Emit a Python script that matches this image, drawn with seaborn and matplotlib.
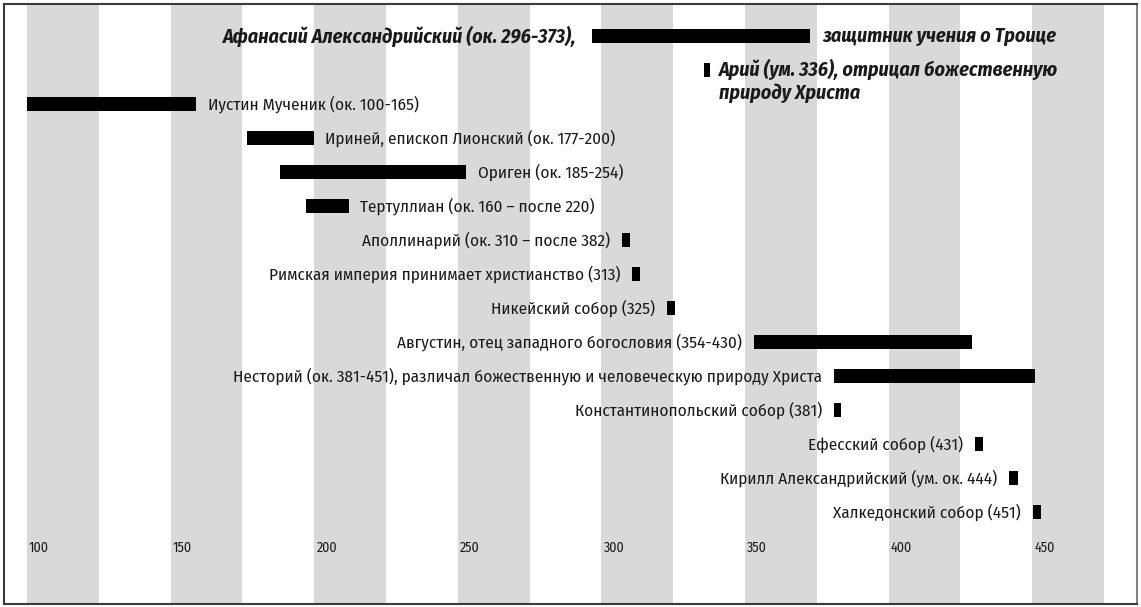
import matplotlib
matplotlib.use("Agg")
import matplotlib.pyplot as plt
import seaborn as sns
import pandas as pd

# Timeline data (years)
labels = [
    "Иустин Мученик (ок. 100-165)",
    "Ириней, епископ Лионский (ок. 177-200)",
    "Ориген (ок. 185-254)",
    "Тертуллиан (ок. 160 – после 220)",
    "Аполлинарий (ок. 310 – после 382)",
    "Римская империя принимает христианство (313)",
    "Никейский собор (325)",
    "Августин, отец западного богословия (354-430)",
    "Несторий (ок. 381-451), различал божественную и человеческую природу Христа",
    "Константинопольский собор (381)",
    "Ефесский собор (431)",
    "Кирилл Александрийский (ум. ок. 444)",
    "Халкедонский собор (451)",
]
starts = [100, 176.5, 188, 197, 307.2, 310.7, 322.8, 353, 381, 381, 430.1, 441.9, 450.3]
ends = [159, 200, 253, 212, 310, 313.5, 325.6, 429, 451, 383.4, 432.9, 444.9, 453.1]
sides = ["right"] * 4 + ["left"] * 9

athanasius_left = "Афанасий Александрийский (ок. 296-373),"
athanasius_right = "защитник учения о Троице"
athanasius_span = [296.7, 372.6]
arius_label = "Арий (ум. 336), отрицал божественную\nприроду Христа"
arius_span = [335.6, 337.8]

ticks = [100, 150, 200, 250, 300, 350, 400, 450]

df = pd.DataFrame({"label": labels, "start": starts, "end": ends, "side": sides})
df["row"] = range(2, 2 + len(df))

sns.set_theme(style="white")
plt.rcParams["font.family"] = ["Fira Sans Condensed", "PT Sans Narrow",
                               "Open Sans Condensed", "DejaVu Sans"]

fig = plt.figure(figsize=(11.41, 6.07), dpi=100)
ax = fig.add_axes([4 / 1141, 3 / 607, 1133 / 1141, 600 / 607])

# grey stripes
for t in ticks:
    ax.axvspan(t, t + 25, color="#d9d9d9", lw=0, zorder=0)

bar_h = 0.42
ax.barh(df["row"], df["end"] - df["start"], left=df["start"], height=bar_h,
        color="black", lw=0, zorder=2)
ax.barh([0], [athanasius_span[1] - athanasius_span[0]], left=athanasius_span[0],
        height=bar_h, color="black", lw=0, zorder=2)
ax.barh([1], [arius_span[1] - arius_span[0]], left=arius_span[0],
        height=bar_h, color="black", lw=0, zorder=2)

txt = dict(fontsize=12.3, color="#1a1a1a", va="center", textcoords="offset points")
for _, r in df.iterrows():
    if r["side"] == "right":
        ax.annotate(r["label"], (r["end"], r["row"]), xytext=(8, 0), ha="left", **txt)
    else:
        ax.annotate(r["label"], (r["start"], r["row"]), xytext=(-8.5, 0), ha="right", **txt)

bold = dict(fontsize=14.4, color="#1a1a1a", fontweight="bold", fontstyle="italic",
            textcoords="offset points")
ax.annotate(athanasius_left, (athanasius_span[0], 0), xytext=(-11, 0),
            ha="right", va="center", **bold)
ax.annotate(athanasius_right, (athanasius_span[1], 0), xytext=(9, 0),
            ha="left", va="center", **bold)
ax.annotate(arius_label, (arius_span[1], 1), xytext=(6.5, 8),
            ha="left", va="top", linespacing=1.2, **bold)

for t in ticks:
    ax.annotate(str(t), (t, 15.06), xytext=(1.5, 0), textcoords="offset points",
                ha="left", va="center", fontsize=10, color="#1a1a1a")

ax.set_xlim(92.0, 486.5)
ax.set_ylim(16.7, -0.94)
ax.set_xticks([])
ax.set_yticks([])
for side, sp in ax.spines.items():
    sp.set_visible(True)
    sp.set_color("#3a3a3a")
    sp.set_linewidth(1.5)
ax.spines["right"].set_color("#808080")

fig.savefig("out.png", dpi=100)
